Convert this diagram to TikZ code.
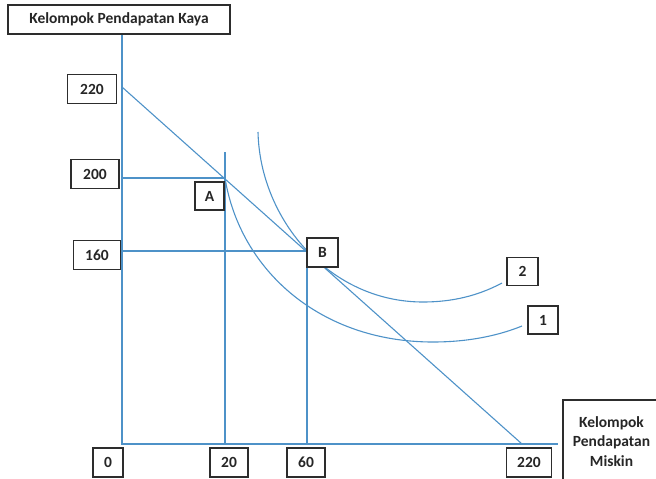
\documentclass[tikz,border=0pt]{standalone}
\usepackage{fontspec}
\setmainfont{Carlito}
\usetikzlibrary{calc}

\definecolor{lineblue}{RGB}{78,146,200}
\definecolor{boxgray}{RGB}{45,45,45}

\begin{document}
\begin{tikzpicture}[x=1pt,y=-1pt,
  box/.style={draw=boxgray, fill=white, line width=1.1pt, inner sep=0pt,
              minimum height=29pt, font=\fontsize{15.5}{19.5}\selectfont\bfseries,
              text=black!85},
  graphline/.style={lineblue, line width=1.1pt}]
\useasboundingbox (0,0) rectangle (656,479);
\def\ox{122} %x of the origin
\def\oy{444} %y of the origin
\coordinate (O) at (\ox,\oy);
\coordinate (ytop) at (\ox,34);
\coordinate (xend) at (558,\oy);
\coordinate (Y220) at (\ox,87); % budget line on the y axis
\coordinate (X220) at (522,\oy); % budget line on the x axis
\coordinate (A) at (225,178);
\coordinate (B) at (307,251);

% axes
\draw [graphline] (ytop) -- (O) -- (xend);
% budget line
\draw [graphline] (Y220) -- (X220);
% guide lines through A and B
\draw [graphline] (O |- A) -- (A);
\draw [graphline] ($(A)+(0,-26)$) -- (A |- O);
\draw [graphline] (O |- B) -- (B) -- (B |- O);

% indifference curve 1
\draw [graphline] (A) .. controls (240,270) and (320,342) .. (433,342)
  .. controls (470,342) and (500,335) .. (522,326);
% indifference curve 2
\draw [graphline] (258,132) .. controls (260,220) and (330,302) .. (423,302)
  .. controls (460,302) and (485,292) .. (502,283);

% boxes on the axes
\node [box, minimum width=222pt] (kaya) at (119,19.5) {Kelompok Pendapatan Kaya};
\foreach \t/\y/\x/\w in {220/89/92/49, 200/174/95/48, 160/255/97/47}
{
  \node [box, minimum width=\w pt] (y\t) at (\x,\y) {\t};
}
\foreach \t/\x/\w in {0/108/30, 20/229/38, 60/306/38, 220/529/45}
{
  \node [box, minimum width=\w pt] (x\t) at (\x,462.5) {\t};
}
\node [box, minimum width=97pt, minimum height=83pt, align=center] (miskin) at (611.5,441.5)
  {Kelompok\\Pendapatan\\Miskin};

% point and curve labels
\node [box, minimum width=29pt, minimum height=28pt] (lblA) at (209.5,196) {A};
\node [box, minimum width=31pt] (lblB) at (322.5,252.5) {B};
\node [box, minimum width=31pt, minimum height=28pt] (lbl2) at (522.5,271.5) {2};
\node [box, minimum width=30pt, minimum height=28pt] (lbl1) at (543,320) {1};
\end{tikzpicture}
\end{document}
